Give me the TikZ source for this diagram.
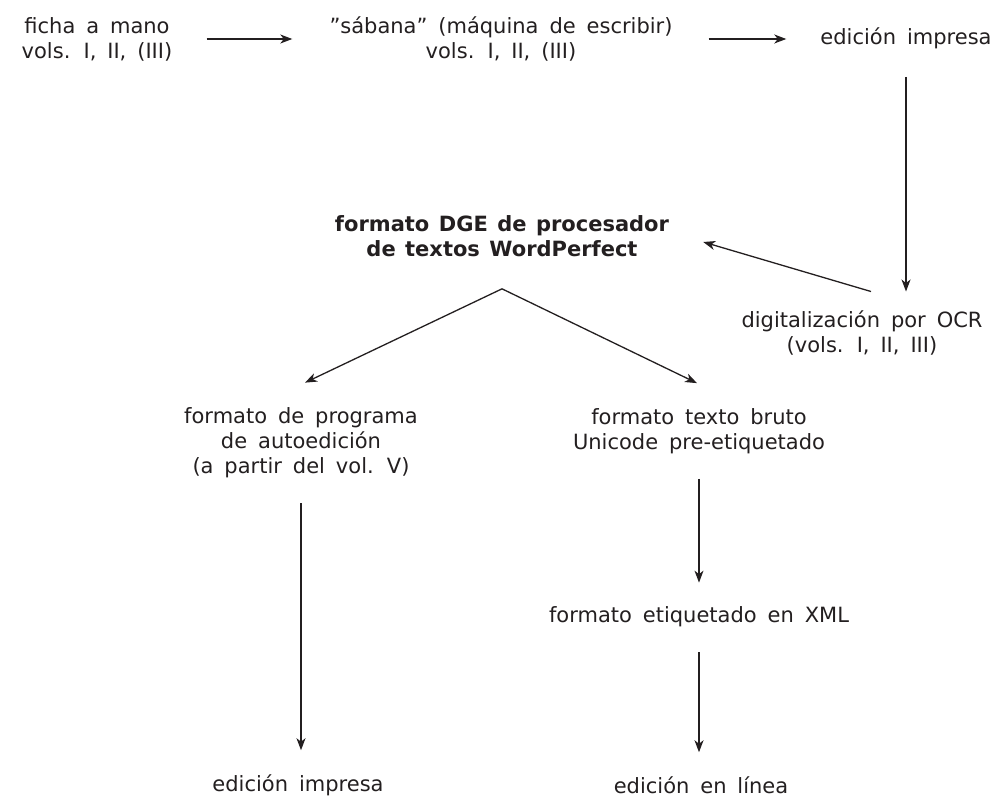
\documentclass[tikz,border=0pt]{standalone}
\usepackage{fontspec}
\setmainfont{DejaVu Sans}
\usepackage{tikz}
\usetikzlibrary{arrows.meta,calc}
\definecolor{tinta}{RGB}{35,31,32}

\begin{document}
\begin{tikzpicture}[x=1pt,y=-1pt,
    texto/.style={align=center,text=tinta,inner sep=3pt,
        font={\fontsize{21}{25}\selectfont\spaceskip=0.52em plus 0.1em}},
    flecha/.style={draw=tinta,line width=1.3pt,
        -{Stealth[length=12pt,width=9pt,inset=3.5pt]},
        shorten <=22pt,shorten >=21pt}]
    \useasboundingbox (0,0) rectangle (996,802);
    % primera fila
    \node[texto] (ficha) at (97,39) {ficha a mano\\vols. I, II, (III)};
    \node[texto] (sabana) at (501,39) {”sábana” (máquina de escribir)\\vols. I, II, (III)};
    \node[texto] (impresa) at (906,38) {edición impresa};
    \draw[flecha,shorten <=31pt,shorten >=34pt] (ficha.east) -- (ficha.east -| sabana.west);
    \draw[flecha,shorten <=33pt,shorten >=31pt] (sabana.east) -- (sabana.east -| impresa.west);

    % OCR y formato DGE
    \node[texto] (ocr) at (862,333) {digitalización por OCR\\(vols. I, II, III)};
    \node[texto,font={\fontsize{21}{25}\selectfont\bfseries\spaceskip=0.45em plus 0.1em}] (dge) at (502,236)
        {formato DGE de procesador\\de textos WordPerfect};
    \draw[flecha,shorten <=25pt,shorten >=16pt] (impresa.south) -- (impresa.south |- ocr.north);
    \draw[flecha,shorten <=0pt,shorten >=0pt] ([shift={(9,-16)}]ocr.north) -- ([shift={(31,6)}]dge.east);

    % bifurcacion
    \node[texto] (autoed) at (301,443) {formato de programa\\de autoedición\\(a partir del vol. V)};
    \node[texto] (bruto) at (699,431) {formato texto bruto\\Unicode pre-etiquetado};
    \coordinate (vertice) at ([shift={(0,29)}]dge.south);
    \draw[flecha,shorten <=0pt,shorten >=0pt] (vertice) -- ([shift={(4,-22)}]autoed.north);
    \draw[flecha,shorten <=0pt,shorten >=0pt] (vertice) -- ([shift={(-2,-22)}]bruto.north);

    % columnas finales
    \node[texto] (xml) at (699,617) {formato etiquetado en XML};
    \node[texto] (impresaB) at (298,785) {edición impresa};
    \node[texto] (linea) at (701,785) {edición en línea};
    \draw[flecha] (bruto.south) -- (xml.north);
    \draw[flecha] (xml.south) -- (xml.south |- linea.north);
    \draw[flecha] (autoed.south) -- (autoed.south |- impresaB.north);
\end{tikzpicture}
\end{document}
